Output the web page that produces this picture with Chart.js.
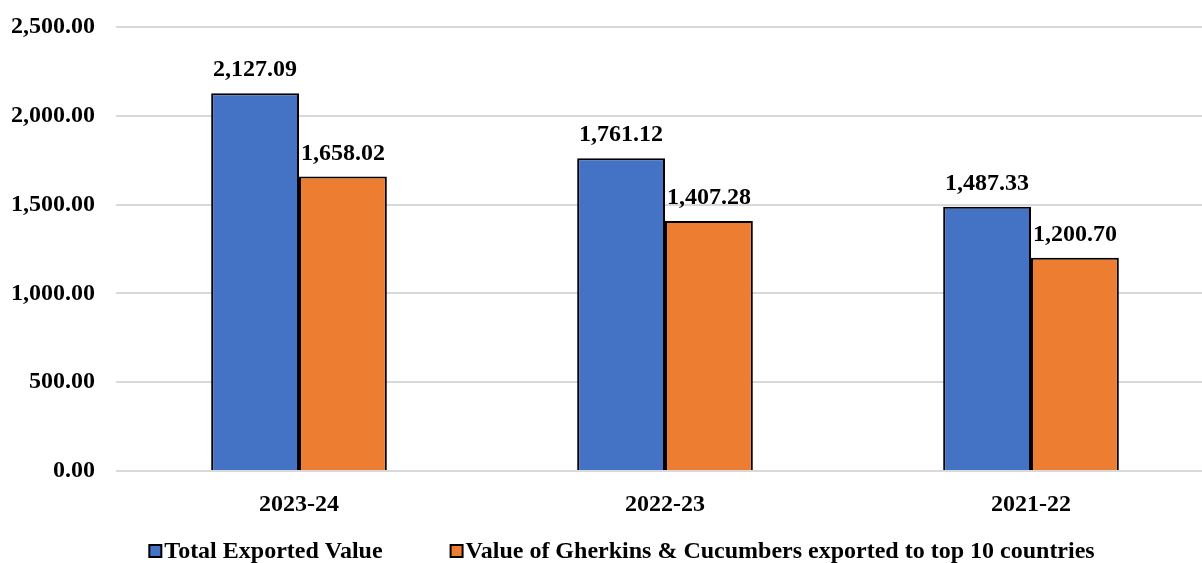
<!DOCTYPE html>
<html>
<head>
<meta charset="utf-8">
<script src="https://cdn.jsdelivr.net/npm/chart.js@4"></script>
<style>
  body { margin: 0; background: #fff; overflow: hidden; }
  #wrap { width: 1202px; height: 563px; overflow: hidden; }
  #wrap div { width: 1214px; height: 563px; }
</style>
</head>
<body>
<div id="wrap"><div><canvas id="chart"></canvas></div></div>
<script>
// data
const years = ['2023-24', '2022-23', '2021-22'];
const totalExported = [2127.09, 1761.12, 1487.33];
const topTenValue = [1658.02, 1407.28, 1200.70];
const yTicks = [0, 500, 1000, 1500, 2000, 2500];

const fmt = v => v.toLocaleString('en-US', { minimumFractionDigits: 2, maximumFractionDigits: 2 });
const font = { family: 'Liberation Serif', size: 24, weight: 'bold' };
const fontStr = 'bold 24px "Liberation Serif"';

// value labels above every bar
const barLabels = {
  id: 'barLabels',
  afterDatasetsDraw(chart) {
    const ctx = chart.ctx;
    ctx.save();
    ctx.font = fontStr;
    ctx.fillStyle = '#000';
    ctx.textAlign = 'center';
    ctx.textBaseline = 'middle';
    chart.data.datasets.forEach((ds, i) => {
      chart.getDatasetMeta(i).data.forEach((bar, j) => {
        ctx.fillText(fmt(ds.data[j]), bar.x, bar.y - 23);
      });
    });
    ctx.restore();
  }
};

// legend at the bottom: small bordered squares, wide gap between items
const bottomLegend = {
  id: 'bottomLegend',
  afterDraw(chart) {
    const ctx = chart.ctx;
    const box = 12, gap = 3, spacing = 68;
    const y = 551;
    ctx.save();
    ctx.font = fontStr;
    const items = chart.data.datasets.map(ds => ({ ds, w: ctx.measureText(ds.label).width }));
    let total = items.reduce((s, it) => s + box + gap + it.w, 0) + spacing * (items.length - 1);
    let x = chart.width / 2 + 15 - total / 2;
    ctx.textBaseline = 'middle';
    ctx.textAlign = 'left';
    items.forEach(it => {
      ctx.fillStyle = it.ds.backgroundColor;
      ctx.fillRect(x, y - box / 2, box, box);
      ctx.lineWidth = 2;
      ctx.strokeStyle = '#000';
      ctx.strokeRect(x, y - box / 2, box, box);
      ctx.fillStyle = '#000';
      ctx.fillText(it.ds.label, x + box + gap, y + 1);
      x += box + gap + it.w + spacing;
    });
    ctx.restore();
  }
};

const ctx = document.getElementById('chart').getContext('2d');
const myChart = new Chart(ctx, {
  type: 'bar',
  data: {
    labels: years,
    datasets: [{
      label: 'Total Exported Value',
      data: totalExported,
      backgroundColor: '#4472C4',
      borderColor: '#000',
      borderWidth: 2
    }, {
      label: 'Value of Gherkins & Cucumbers exported to top 10 countries',
      data: topTenValue,
      backgroundColor: '#ED7D31',
      borderColor: '#000',
      borderWidth: 2
    }]
  },
  options: {
    responsive: true,
    maintainAspectRatio: false,
    animation: false,
    layout: { padding: { top: 27, right: 0, bottom: 32, left: 0 } },
    datasets: { bar: { barPercentage: 1, categoryPercentage: 0.48 } },
    scales: {
      x: {
        clip: false,
        afterFit: s => { s.height = 60; },
        grid: { display: false },
        border: { display: false },
        ticks: { color: '#000', font: font, padding: 11 }
      },
      y: {
        min: 0,
        max: 2500,
        afterBuildTicks: s => { s.ticks = yTicks.map(v => ({ value: v })); },
        afterFit: s => { s.width = 116; s.paddingTop = 0; s.paddingBottom = 0; },
        grid: { color: '#d9d9d9', lineWidth: 2, drawTicks: false },
        border: { display: false },
        ticks: { color: '#000', font: font, padding: 21, callback: v => fmt(v) }
      }
    },
    plugins: {
      legend: { display: false },
      tooltip: { enabled: false }
    }
  },
  plugins: [barLabels, bottomLegend]
});
</script>
</body>
</html>
